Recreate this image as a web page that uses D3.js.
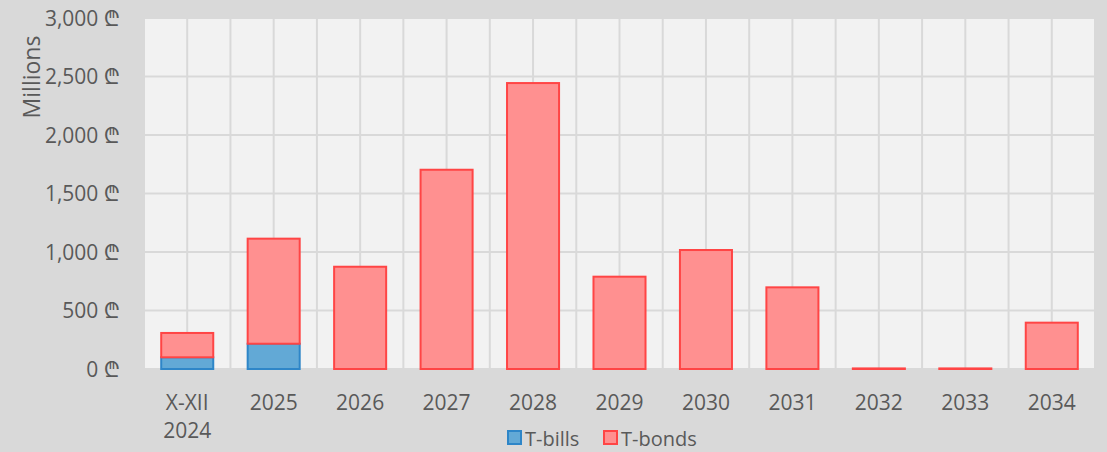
<!DOCTYPE html>
<meta charset="utf-8">
<style>
body { margin: 0; background: #d9d9d9; }
text { font-family: "Open Sans", "Noto Sans", "DejaVu Sans", sans-serif; fill: #595959; }
</style>
<body>
<div id="chart"></div>
<script src="https://cdn.jsdelivr.net/npm/d3@7"></script>
<script>

// data (millions of lari)
var categories = ["X-XII 2024", "2025", "2026", "2027", "2028", "2029", "2030", "2031", "2032", "2033", "2034"];
var tBills = [100, 216, 0, 0, 0, 0, 0, 0, 0, 0, 0];
var tBonds = [208, 898, 874, 1703, 2444, 789, 1017, 698, 5, 5, 396];
var yTicks = [0, 500, 1000, 1500, 2000, 2500, 3000];

var W = 1107, H = 452;
var margin = {top: 18, right: 12, bottom: 83, left: 144};

var svg = d3.select("#chart").append("svg")
  .attr("width", W)
  .attr("height", H);

svg.append("rect").attr("width", W).attr("height", H).style("fill", "#d9d9d9");

var x = d3.scaleBand()
  .domain(categories)
  .range([margin.left, W - margin.right])
  .paddingInner(0.375)
  .paddingOuter(0.1875);

var y = d3.scaleLinear()
  .domain([0, 3000])
  .range([H - margin.bottom, margin.top]);

// plot background
svg.append("rect")
  .attr("x", margin.left)
  .attr("y", margin.top)
  .attr("width", W - margin.right - margin.left)
  .attr("height", y(0) - margin.top)
  .style("fill", "#f2f2f2");

// vertical gridlines: category edges and centres
var step = x.step();
var vlines = d3.range(0, categories.length * 2 + 1).map(function(i){ return margin.left + i * step / 2; });
svg.append("g").selectAll("line").data(vlines).enter().append("line")
  .attr("x1", function(d){ return d; }).attr("x2", function(d){ return d; })
  .attr("y1", margin.top).attr("y2", y(0))
  .style("stroke", "#d9d9d9").style("stroke-width", 2);

// horizontal gridlines
svg.append("g").selectAll("line").data(yTicks).enter().append("line")
  .attr("x1", margin.left).attr("x2", W - margin.right)
  .attr("y1", function(d){ return y(d); }).attr("y2", function(d){ return y(d); })
  .style("stroke", "#d9d9d9").style("stroke-width", 2);

// y axis
var yAxis = d3.axisLeft(y)
  .tickValues(yTicks)
  .tickSize(0)
  .tickPadding(24)
  .tickFormat(function(d){ return d3.format(",")(d) + " \u20BE"; });

var ya = svg.append("g")
  .attr("transform", "translate(" + margin.left + ",0)")
  .call(yAxis);
ya.select(".domain").remove();
ya.selectAll("text").style("font-size", "21px").style("font-family", null).attr("dy", "0.35em");

svg.append("text")
  .attr("transform", "translate(40,77) rotate(-90)")
  .attr("text-anchor", "middle")
  .style("font-size", "23px")
  .text("Millions");

// stacked bars
var rows = categories.map(function(c, i){ return {cat: c, bills: tBills[i], bonds: tBonds[i]}; });
var stack = d3.stack().keys(["bills", "bonds"])(rows);
var fills = {bills: "#62a9d6", bonds: "#ff9090"};
var strokes = {bills: "#2e86c8", bonds: "#ff4545"};

stack.forEach(function(layer){
  svg.append("g").selectAll("rect")
    .data(layer.filter(function(d){ return d[1] - d[0] > 0; }))
    .enter().append("rect")
    .attr("x", function(d){ return x(d.data.cat) + 1; })
    .attr("y", function(d){ return y(d[1]); })
    .attr("width", x.bandwidth() - 2)
    .attr("height", function(d){ return Math.max(0.5, y(d[0]) - y(d[1])); })
    .style("fill", fills[layer.key])
    .style("stroke", strokes[layer.key])
    .style("stroke-width", 2);
});

// x labels
var xl = svg.append("g").selectAll("text").data(categories).enter().append("text")
  .attr("x", function(d){ return x(d) + x.bandwidth() / 2; })
  .attr("y", 410)
  .attr("text-anchor", "middle")
  .style("font-size", "21px");
xl.each(function(d){
  var parts = d === "X-XII 2024" ? ["X-XII", "2024"] : [d];
  var t = d3.select(this);
  parts.forEach(function(p, i){
    t.append("tspan").attr("x", t.attr("x")).attr("dy", i ? 28 : 0).text(p);
  });
});

// legend
var legend = [{key: "bills", label: "T-bills", x: 508}, {key: "bonds", label: "T-bonds", x: 604}];
var lg = svg.append("g").selectAll("g").data(legend).enter().append("g")
  .attr("transform", function(d){ return "translate(" + d.x + ",431)"; });
lg.append("rect")
  .attr("width", 13).attr("height", 13)
  .style("fill", function(d){ return fills[d.key]; })
  .style("stroke", function(d){ return strokes[d.key]; })
  .style("stroke-width", 2);
lg.append("text")
  .attr("x", 17).attr("y", 15)
  .style("font-size", "20px")
  .text(function(d){ return d.label; });

</script>
</body>
